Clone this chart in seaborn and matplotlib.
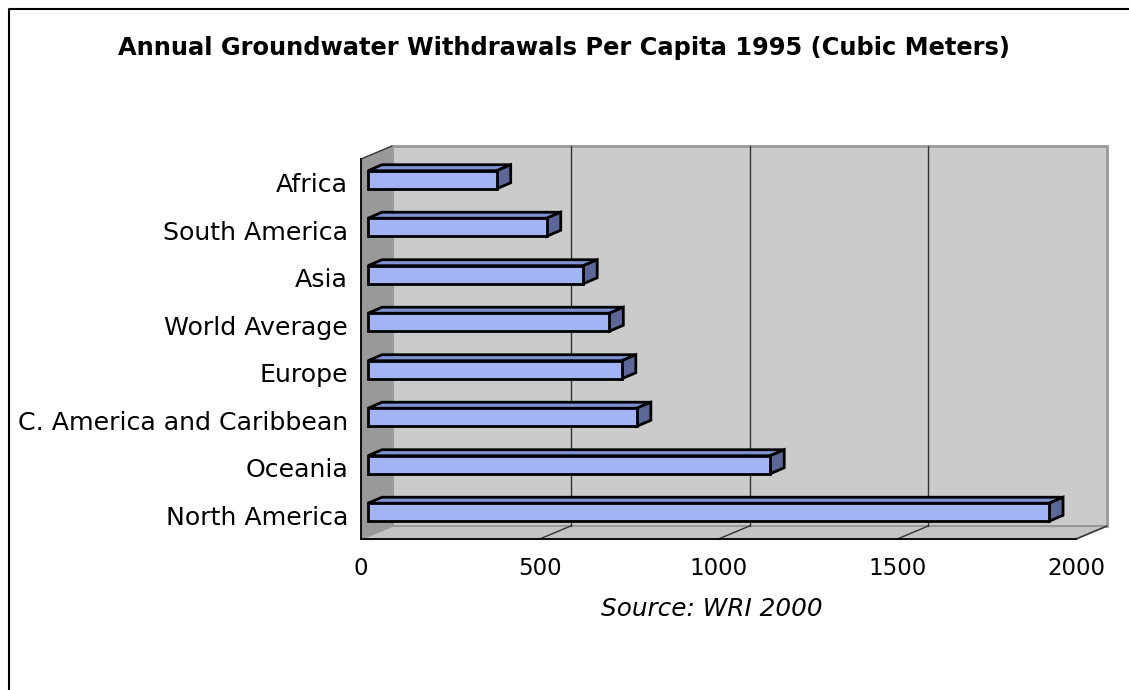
import numpy as np
import pandas as pd
import matplotlib
matplotlib.use("Agg")
import matplotlib.pyplot as plt
from matplotlib.patches import Polygon
from matplotlib.lines import Line2D
from matplotlib.transforms import offset_copy, IdentityTransform
import seaborn as sns

# Annual groundwater withdrawals per capita, 1995 (cubic metres)
regions = ["Africa", "South America", "Asia", "World Average", "Europe",
           "C. America and Caribbean", "Oceania", "North America"]
withdrawals = [360, 500, 602, 675, 710, 752, 1125, 1905]
x_ticks = [0, 500, 1000, 1500, 2000]

df = pd.DataFrame({"region": regions, "m3": withdrawals})

sns.set_theme(style="white")
plt.rcParams["font.family"] = ["DejaVu Sans"]
plt.rcParams["text.color"] = "black"

W, H = 1129, 690
fig = plt.figure(figsize=(W / 100, H / 100), dpi=100)
fig.patch.set_facecolor("white")

# front plane of the 3-D box
ax = fig.add_axes([361 / W, 1 - 539 / H, (1076 - 361) / W, (539 - 159) / H])
ax.set_facecolor("none")

FRONT = "#a3b4f4"
SIDE = "#5d6797"
TOP = "#8092d6"
WALL = "#cbcbcb"
LEFT_WALL = "#999999"
FLOOR = "#c4c4c4"
EDGE = "#999999"
BAR_LW = 2.0

DX, DY = 31, 13          # depth of the plot box, pixels
BF = (7, 3)              # bar front face offset into the box
BB = (21, 9)             # bar back face offset into the box

sns.barplot(data=df, y="region", x="m3", order=regions, orient="h",
            width=0.38, color=FRONT, saturation=1, edgecolor="black",
            linewidth=BAR_LW, ax=ax, zorder=6)

ax.set_xlim(0, 2000)
ax.set_ylim(len(regions) - 0.5, -0.5)

back = offset_copy(ax.transData, fig=fig, x=DX, y=DY, units="dots")
td = ax.transData
y_lo, y_hi = len(regions) - 0.5, -0.5

def px(x, y, off=(0, 0)):
    p = td.transform((x, y))
    return (p[0] + off[0], p[1] + off[1])

# back wall
ax.add_patch(Polygon([(0, y_lo), (2000, y_lo), (2000, y_hi), (0, y_hi)],
                     closed=True, transform=back, facecolor=WALL,
                     edgecolor=EDGE, linewidth=2, zorder=1, clip_on=False))
# floor
ax.add_patch(Polygon([px(0, y_lo), px(2000, y_lo), px(2000, y_lo, (DX, DY)),
                      px(0, y_lo, (DX, DY))], closed=True,
                     transform=IdentityTransform(), facecolor=FLOOR,
                     edgecolor=EDGE, linewidth=1.5, zorder=1, clip_on=False))
# left wall
ax.add_patch(Polygon([px(0, y_lo), px(0, y_hi), px(0, y_hi, (DX, DY)),
                      px(0, y_lo, (DX, DY))], closed=True,
                     transform=IdentityTransform(), facecolor=LEFT_WALL,
                     edgecolor="none", zorder=2, clip_on=False))
ax.add_artist(Line2D(*zip(px(0, y_hi), px(0, y_hi, (DX, DY))),
                     transform=IdentityTransform(), color="#333333",
                     linewidth=1, zorder=3, clip_on=False))

# gridlines on the back wall and across the floor
for v in x_ticks[1:-1]:
    ax.plot([v, v], [y_lo, y_hi], transform=back, color="#333333",
            linewidth=1, zorder=2, clip_on=False)
for v in x_ticks[1:]:
    a, b = px(v, y_lo), px(v, y_lo, (DX, DY))
    ax.add_artist(Line2D([a[0], b[0]], [a[1], b[1]],
                         transform=IdentityTransform(), color="#333333",
                         linewidth=1, zorder=2, clip_on=False))

# 3-D boxes: shift front faces, add top and side faces
front_t = offset_copy(ax.transData, fig=fig, x=BF[0], y=BF[1], units="dots")
for bar in list(ax.patches):
    if not hasattr(bar, "get_width") or bar.get_zorder() != 6:
        continue
    x0, y0 = bar.get_x(), bar.get_y()
    w, h = bar.get_width(), bar.get_height()
    bar.set_transform(front_t)
    bar.set_clip_on(False)
    bar.set_joinstyle("miter")
    y_top = y0            # inverted axis: smaller y is higher
    y_bot = y0 + h
    tl, tr = px(x0, y_top, BF), px(x0 + w, y_top, BF)
    br = px(x0 + w, y_bot, BF)
    tl_b, tr_b = px(x0, y_top, BB), px(x0 + w, y_top, BB)
    br_b = px(x0 + w, y_bot, BB)
    ax.add_patch(Polygon([tl, tr, tr_b, tl_b], closed=True,
                         transform=IdentityTransform(), facecolor=TOP,
                         edgecolor="black", linewidth=BAR_LW,
                         joinstyle="miter", zorder=5, clip_on=False))
    ax.add_patch(Polygon([tr, br, br_b, tr_b], closed=True,
                         transform=IdentityTransform(), facecolor=SIDE,
                         edgecolor="black", linewidth=BAR_LW,
                         joinstyle="miter", zorder=5, clip_on=False))

# axes, ticks and labels
for s in ["top", "right"]:
    ax.spines[s].set_visible(False)
for s in ["left", "bottom"]:
    ax.spines[s].set_color("black")
    ax.spines[s].set_linewidth(1.3)
    ax.spines[s].set_zorder(4)

ax.set_xticks(x_ticks)
ax.set_xticklabels([str(t) for t in x_ticks])
ax.set_yticks(np.arange(-0.5, len(regions), 1.0))
ax.set_yticklabels([])
ax.set_yticks(np.arange(len(regions)), minor=True)
ax.set_yticklabels(regions, minor=True)
ax.tick_params(axis="both", which="major", direction="out", length=5,
               width=1, color="black", labelsize=16.5, labelcolor="black",
               pad=8)
ax.tick_params(axis="y", which="minor", length=0, labelsize=18.2,
               labelcolor="black", pad=9.4)
ax.tick_params(axis="x", pad=8)
ax.set_xlabel("")
ax.set_ylabel("")

fig.text(564 / W, 1 - 48 / H,
         "Annual Groundwater Withdrawals Per Capita 1995 (Cubic Meters)",
         ha="center", va="center", fontsize=17.4, fontweight="bold",
         color="black")
fig.text(712 / W, 1 - 609 / H, "Source: WRI 2000", ha="center",
         va="center", fontsize=17.8, fontstyle="italic", color="black")

# outer chart frame (top and left edges)
fig.add_artist(Line2D([9 / W, 9 / W, 1.0], [0.0, 1 - 9 / H, 1 - 9 / H],
                      transform=fig.transFigure, color="black",
                      linewidth=1.5))

fig.savefig("out.png", dpi=100)
